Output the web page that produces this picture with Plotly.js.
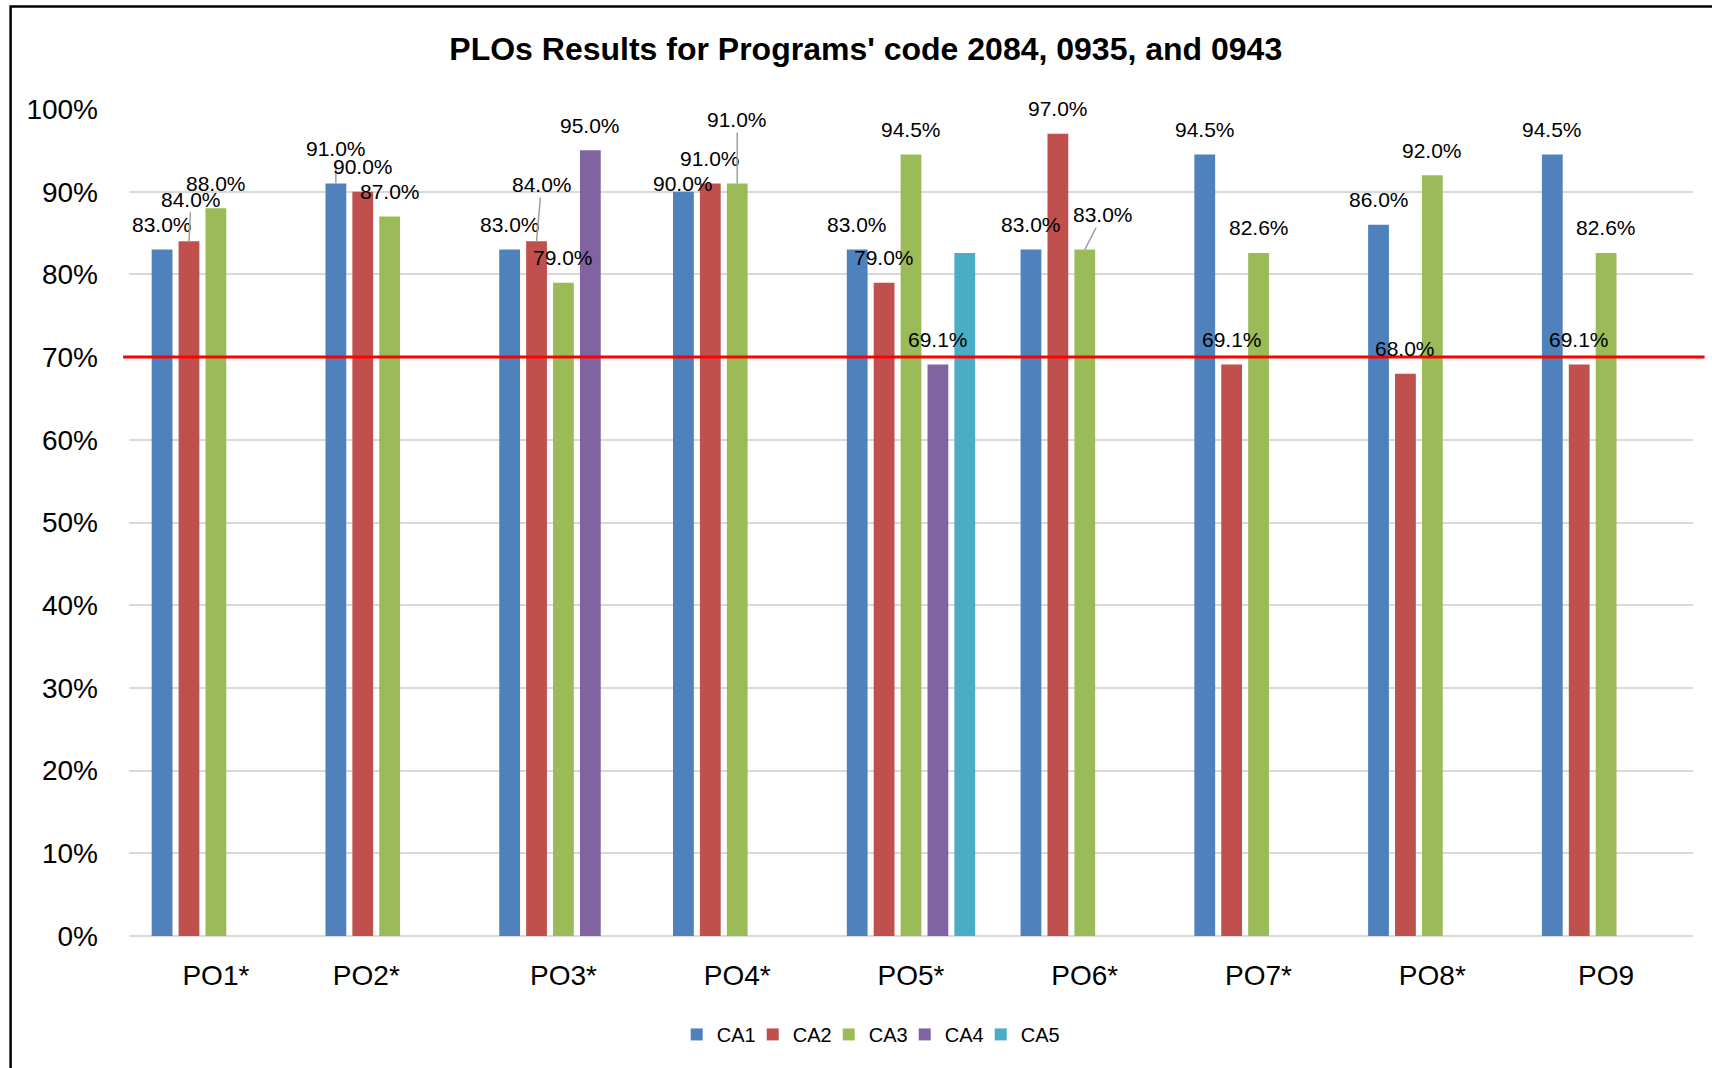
<!DOCTYPE html>
<html>
<head>
<meta charset="utf-8">
<script src="https://cdn.plot.ly/plotly-3.0.1.min.js"></script>
<style>
html,body{margin:0;padding:0;background:#fff;}
#chart{width:1712px;height:1068px;}
</style>
</head>
<body>
<div id="chart"></div>
<script>
// ---- data ----
const categories = ['PO1*', 'PO2*', 'PO3*', 'PO4*', 'PO5*', 'PO6*', 'PO7*', 'PO8*', 'PO9'];
const tickLabels = ['PO1*', 'PO2*\u00a0\u00a0\u00a0\u00a0\u00a0\u00a0', 'PO3*', 'PO4*', 'PO5*', 'PO6*', 'PO7*', 'PO8*', 'PO9'];
const seriesNames = ['CA1', 'CA2', 'CA3', 'CA4', 'CA5'];
const ca1 = [83.0, 91.0, 83.0, 90.0, 83.0, 83.0, 94.5, 86.0, 94.5];
const ca2 = [84.0, 90.0, 84.0, 91.0, 79.0, 97.0, 69.1, 68.0, 69.1];
const ca3 = [88.0, 87.0, 79.0, 91.0, 94.5, 83.0, 82.6, 92.0, 82.6];
const ca4 = [null, null, 95.0, null, 69.1, null, null, null, null];
const ca5 = [null, null, null, null, 82.6, null, null, null, null];
const target = 70;

// ---- styles ----
const seriesValues = [ca1, ca2, ca3, ca4, ca5];
const colors = ['#4F81BD', '#C0504D', '#9BBB59', '#8064A2', '#4BACC6'];
const showLabels = [true, true, true, true, false];
const FONT = 'Liberation Sans, Arial, sans-serif';
const BARGAP = 0.226, GROUPGAP = 0.227;
const slot = (1 - BARGAP) / seriesNames.length;
const baseLift = 25;
// label nudges: key "series-category" -> [dx px, extra lift px, leader line]
const nudges = {
  '1-0': [2, 17, true],
  '0-1': [0, 10, true],
  '1-2': [5, 32, true],
  '0-3': [0, -17, false],
  '2-3': [0, 39, true],
  '2-5': [18, 10, true]
};

const xIdx = categories.map((c, i) => i);

const traces = seriesNames.map((name, s) => ({
  type: 'bar',
  name: name,
  x: xIdx,
  y: seriesValues[s],
  marker: {color: colors[s]},
  hoverinfo: 'skip'
}));

const annotations = [];
seriesValues.forEach((vals, s) => {
  if (!showLabels[s]) return;
  vals.forEach((v, i) => {
    if (v === null) return;
    const n = nudges[s + '-' + i] || [0, 0, false];
    const a = {
      x: i + (s - (seriesNames.length - 1) / 2) * slot,
      y: v,
      xref: 'x', yref: 'y',
      text: v.toFixed(1) + '%',
      font: {family: FONT, size: 21, color: '#000'}
    };
    if (n[2]) {
      Object.assign(a, {
        showarrow: true, arrowhead: 0, arrowwidth: 1.5, arrowcolor: '#a0a0a0',
        ax: n[0], ay: -(baseLift + n[1]), axref: 'pixel', ayref: 'pixel',
        standoff: 0, startstandoff: 0
      });
    } else {
      Object.assign(a, {
        showarrow: false, xanchor: 'center', yanchor: 'middle',
        xshift: n[0], yshift: baseLift + n[1]
      });
    }
    annotations.push(a);
  });
});

const layout = {
  width: 1712,
  height: 1068,
  paper_bgcolor: '#fff',
  plot_bgcolor: '#fff',
  margin: {l: 129, r: 19, t: 109, b: 132, autoexpand: false},
  barmode: 'group',
  bargap: BARGAP,
  bargroupgap: GROUPGAP,
  title: {
    text: "<b>PLOs Results for Programs' code 2084, 0935, and 0943</b>",
    font: {family: FONT, size: 32, color: '#000'},
    x: 0.5057, xanchor: 'center', xref: 'container',
    y: 1 - 49 / 1068, yanchor: 'middle', yref: 'container'
  },
  xaxis: {
    type: 'linear',
    range: [-0.5, categories.length - 0.5],
    tickvals: xIdx,
    ticktext: tickLabels,
    showgrid: false,
    zeroline: false,
    showline: false,
    ticks: '',
    ticklabelstandoff: 20,
    tickfont: {family: FONT, size: 28, color: '#000'},
    fixedrange: true
  },
  yaxis: {
    range: [0, 100],
    dtick: 10,
    tick0: 0,
    ticksuffix: '%',
    showgrid: true,
    gridcolor: '#d9d9d9',
    gridwidth: 2,
    zeroline: true,
    zerolinecolor: '#d9d9d9',
    zerolinewidth: 2,
    showline: false,
    ticks: '',
    ticklabelstandoff: 30,
    tickfont: {family: FONT, size: 28, color: '#000'},
    fixedrange: true
  },
  legend: {
    orientation: 'h',
    x: 0.3502, xanchor: 'left',
    y: -0.119, yanchor: 'middle',
    entrywidth: 31,
    entrywidthmode: 'pixels',
    font: {family: FONT, size: 20, color: '#000'},
    bgcolor: 'rgba(0,0,0,0)'
  },
  shapes: [
    {
      type: 'line', layer: 'above',
      xref: 'paper', yref: 'y',
      x0: -0.0038, x1: 1.0074, y0: target, y1: target,
      line: {color: '#FF0000', width: 3}
    },
    {
      type: 'rect', layer: 'above',
      xref: 'paper', yref: 'paper',
      x0: -0.0757, x1: 1.03, y0: 1.1239, y1: -0.2,
      line: {color: '#000', width: 2.5},
      fillcolor: 'rgba(0,0,0,0)'
    }
  ],
  annotations: annotations,
  showlegend: true
};

Plotly.newPlot('chart', traces, layout, {staticPlot: true, displayModeBar: false}).then(function (gd) {
  // let the last legend label extend past the compact entry width
  gd.querySelectorAll('.legend [clip-path]').forEach(function (el) {
    el.removeAttribute('clip-path');
  });
});
</script>
</body>
</html>
